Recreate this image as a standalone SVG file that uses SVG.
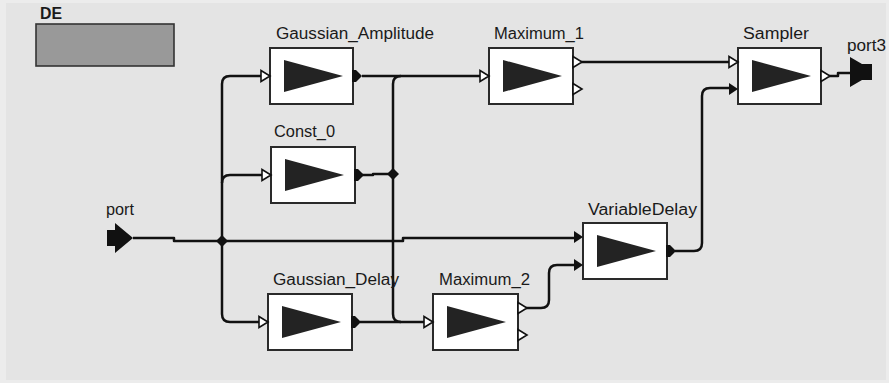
<svg xmlns="http://www.w3.org/2000/svg" xmlns:xlink="http://www.w3.org/1999/xlink" width="889" height="383" viewBox="0 0 889 383">
<style>
.lbl{font-family:"Liberation Sans",Arial,sans-serif;font-size:16px;fill:#1a1a1a}
.box{fill:#ffffff;stroke:#2a2a2a;stroke-width:2}
.tri{fill:#232323}
.w{fill:none;stroke:#111;stroke-width:2.5;stroke-linejoin:round}
.hol{fill:#fff;stroke:#111;stroke-width:1.6;stroke-linejoin:miter}
.fil{fill:#111}
</style>
<defs>
<polygon id="inH" class="hol" points="-9,-5.5 0,0 -9,5.5"/>
<polygon id="outH" class="hol" points="0,-5.5 9,0 0,5.5"/>
<polygon id="inF" class="fil" points="-9,-6 0,0 -9,6"/>
<polygon id="outF" class="fil" points="-1,-6 3,-6 9,0 3,6 -1,6"/>
<polygon id="jn" class="fil" points="0,-6 6,0 0,6 -6,0"/>
<polygon id="icon" class="tri" points="14,12 14,44 73,28"/>
</defs>
<rect x="0" y="0" width="889" height="383" fill="#ececec"/>
<rect x="6" y="3" width="880" height="377" fill="#e4e4e4"/>

<g id="director">
<text class="lbl" x="40" y="19" font-weight="bold" textLength="22" lengthAdjust="spacingAndGlyphs">DE</text>
<rect x="36" y="24" width="138" height="42" fill="#999" stroke="#333" stroke-width="1.6"/>
</g>

<g id="connectors">
<path class="w" d="M133 238 H174 V241 H403 V238 H576"/>
<path class="w" d="M222 241 V84 Q222 76 230 76 H262"/>
<path class="w" d="M222 241 V314 Q222 322 230 322 H260"/>
<path class="w" d="M222 183 Q222 175 230 175 H263"/>
<path class="w" d="M362 76 H481"/>
<path class="w" d="M401 76 Q393 76 393 84 V314 Q393 322 401 322"/>
<path class="w" d="M360 322 H425"/>
<path class="w" d="M362 175 H373 V174 H393"/>
<path class="w" d="M581 62 H730"/>
<path class="w" d="M675 251 H694 Q702 251 702 243 V96 Q702 88 710 88 H731"/>
<path class="w" d="M829 76 H838 V73 H851"/>
<path class="w" d="M526 308 H541 Q549 308 549 300 V273 Q549 265 557 265 H576"/>
<use href="#jn" x="222" y="241"/>
<use href="#jn" x="393" y="174"/>
</g>

<g id="port">
<text class="lbl" x="106" y="215" textLength="28" lengthAdjust="spacingAndGlyphs">port</text>
<polygon fill="#111" points="107,230 115,230 115,223 133,238 115,253 115,246 107,246"/>
</g>

<g id="port3">
<text class="lbl" x="847" y="51" textLength="39" lengthAdjust="spacingAndGlyphs">port3</text>
<polygon fill="#111" points="850,57 862,64 872,64 872,80 862,80 850,87"/>
</g>

<g id="Gaussian_Amplitude">
<text class="lbl" x="276" y="39" textLength="158" lengthAdjust="spacingAndGlyphs">Gaussian_Amplitude</text>
<rect class="box" x="270" y="48" width="83" height="56"/>
<use href="#icon" transform="translate(270,48)"/>
<use href="#inH" x="270" y="76"/>
<use href="#outF" x="353" y="76"/>
</g>

<g id="Const_0">
<text class="lbl" x="274" y="137" textLength="61" lengthAdjust="spacingAndGlyphs">Const_0</text>
<rect class="box" x="271" y="147" width="84" height="56"/>
<use href="#icon" transform="translate(271,147)"/>
<use href="#inH" x="271" y="175"/>
<use href="#outF" x="355" y="175"/>
</g>

<g id="Gaussian_Delay">
<text class="lbl" x="273" y="285" textLength="126" lengthAdjust="spacingAndGlyphs">Gaussian_Delay</text>
<rect class="box" x="268" y="294" width="84" height="56"/>
<use href="#icon" transform="translate(268,294)"/>
<use href="#inH" x="268" y="322"/>
<use href="#outF" x="352" y="322"/>
</g>

<g id="Maximum_1">
<text class="lbl" x="494" y="39" textLength="90" lengthAdjust="spacingAndGlyphs">Maximum_1</text>
<rect class="box" x="489" y="48" width="84" height="56"/>
<use href="#icon" transform="translate(489,48)"/>
<use href="#inH" x="489" y="76"/>
<use href="#outH" x="573" y="62"/>
<use href="#outH" x="573" y="89"/>
</g>

<g id="Maximum_2">
<text class="lbl" x="439" y="285" textLength="91" lengthAdjust="spacingAndGlyphs">Maximum_2</text>
<rect class="box" x="433" y="294" width="85" height="56"/>
<use href="#icon" transform="translate(433,294)"/>
<use href="#inH" x="433" y="322"/>
<use href="#outH" x="518" y="308"/>
<use href="#outH" x="518" y="335"/>
</g>

<g id="VariableDelay">
<text class="lbl" x="588" y="215" textLength="109" lengthAdjust="spacingAndGlyphs">VariableDelay</text>
<rect class="box" x="583" y="223" width="84" height="56"/>
<use href="#icon" transform="translate(583,223)"/>
<use href="#inF" x="583" y="237"/>
<use href="#inF" x="583" y="265"/>
<use href="#outF" x="667" y="251"/>
</g>

<g id="Sampler">
<text class="lbl" x="743" y="39" textLength="66" lengthAdjust="spacingAndGlyphs">Sampler</text>
<rect class="box" x="738" y="48" width="83" height="56"/>
<use href="#icon" transform="translate(738,48)"/>
<use href="#inH" x="738" y="62"/>
<use href="#inF" x="738" y="89"/>
<use href="#outH" x="821" y="76"/>
</g>
</svg>
